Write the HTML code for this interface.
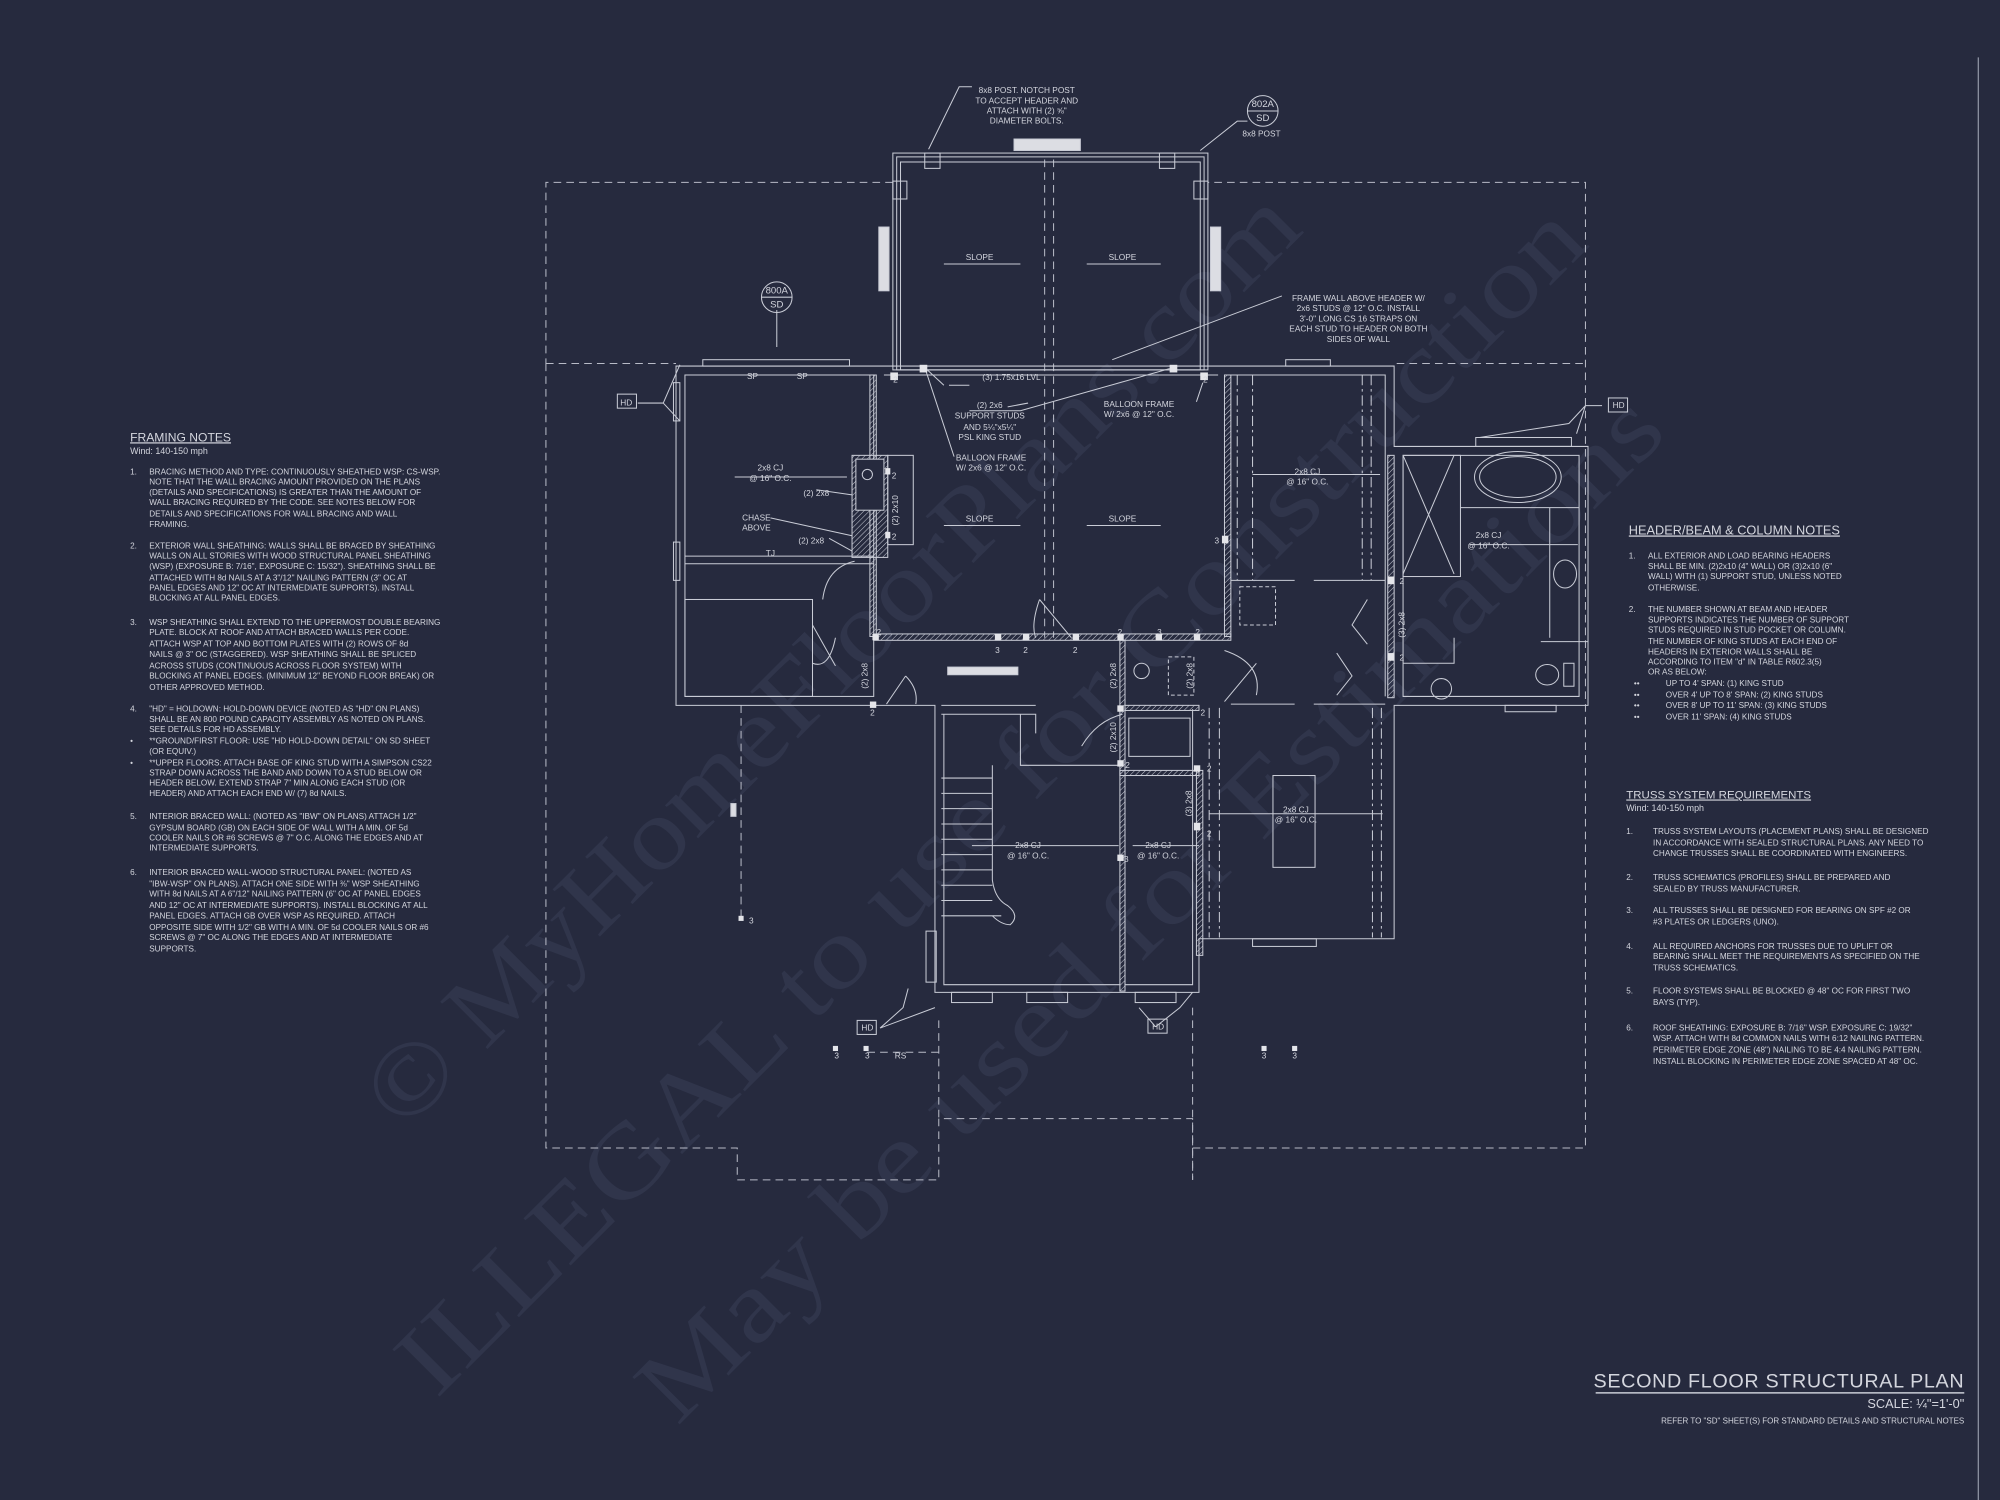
<!DOCTYPE html>
<html><head><meta charset="utf-8"><style>
html,body{margin:0;padding:0;background:#262a3e;}
svg{display:block}
text{font-family:"Liberation Sans",sans-serif;fill:#d4d6de;}
.wm{font-family:"Liberation Serif",serif;fill:#30354b;}
</style></head><body>
<svg width="2000" height="1500" viewBox="0 0 1568 1176" xmlns="http://www.w3.org/2000/svg">
<defs>
<pattern id="h" width="3" height="3" patternUnits="userSpaceOnUse" patternTransform="rotate(45)"><line x1="0" y1="0" x2="0" y2="3" stroke="#c9ccd6" stroke-width="0.8"/></pattern>
</defs>
<rect width="1568" height="1176" fill="#262a3e"/>
<!-- watermark -->
<g transform="translate(650 515) rotate(-45)"><text class="wm" x="0" y="28" font-size="80" text-anchor="middle" textLength="1000" lengthAdjust="spacingAndGlyphs">© MyHomeFloorPlans.com</text></g>
<g transform="translate(775 625) rotate(-45)"><text class="wm" x="0" y="28" font-size="80" text-anchor="middle" textLength="1280" lengthAdjust="spacingAndGlyphs">ILLEGAL to use for Construction</text></g>
<g transform="translate(900 710) rotate(-45)"><text class="wm" x="0" y="28" font-size="80" text-anchor="middle" textLength="1100" lengthAdjust="spacingAndGlyphs">May be used for Estimations</text></g>
<line x1="1551" y1="45" x2="1551" y2="1176" stroke="#8e92a2" stroke-width="1"/>

<g stroke="#c9ccd6" stroke-width="0.8" fill="none">
<!-- roof dashed outline -->
<g stroke-dasharray="6 4" stroke="#b8bbc7">
<path d="M428 285 V900 H578 V925 H736 V877 H935 V925 H935 M935 900 H1243 V143 H947 M700 143 H428 V285"/>
<path d="M935 900 V925"/>
<line x1="428" y1="285" x2="530" y2="285"/><line x1="1095" y1="285" x2="1243" y2="285"/>
<line x1="581" y1="553" x2="581" y2="720"/><line x1="736" y1="800" x2="736" y2="877"/><line x1="935" y1="790" x2="935" y2="900"/>
<line x1="680" y1="825" x2="736" y2="825"/>
<line x1="819" y1="125" x2="819" y2="500"/><line x1="826" y1="125" x2="826" y2="500"/>
</g>
<!-- porch -->
<rect x="700" y="120" width="247" height="170"/><rect x="703" y="123" width="241" height="167"/><rect x="706" y="127" width="235" height="163"/>
<rect x="725" y="120" width="12" height="12"/><rect x="909" y="120" width="12" height="12"/>
<rect x="700" y="142" width="11" height="14"/><rect x="936" y="142" width="11" height="14"/>
<rect x="689" y="178" width="8" height="50" fill="#dcdde3"/><rect x="949" y="178" width="8" height="50" fill="#dcdde3"/>
<rect x="795" y="109" width="52" height="9" fill="#dcdde3"/>
<!-- main outline -->
<path d="M530 287 H1093 V350 H1245 V553 H1093 V736 H940 V778 H733 V553 H685 V553 H530 Z"/>
<path d="M537 294 H685 M693 294 H955 M965 294 H1086 V546 M1100 357 H1238 V546 H1100 Z"/>
<rect x="537" y="294" width="148" height="252"/>
<rect x="537" y="470" width="100" height="76"/>
<path d="M537 436 H685 M537 442 H685"/>
<rect x="551" y="282" width="115" height="5"/><rect x="1008" y="282" width="35" height="5"/>
<rect x="528" y="300" width="5" height="30"/><rect x="528" y="425" width="5" height="30"/>
<!-- hatched walls -->
<rect x="682" y="294" width="5" height="205" fill="url(#h)"/>
<rect x="685" y="497" width="280" height="5" fill="url(#h)"/>
<rect x="960" y="294" width="5" height="205" fill="url(#h)"/>
<rect x="1088" y="357" width="5" height="190" fill="url(#h)"/>
<rect x="878" y="502" width="4" height="275" fill="url(#h)"/>
<rect x="878" y="604" width="62" height="4" fill="url(#h)"/>
<rect x="882" y="553" width="58" height="4" fill="url(#h)"/>
<rect x="938" y="604" width="5" height="145" fill="url(#h)"/>
<rect x="668" y="357" width="28" height="80" fill="url(#h)"/>
<rect x="671" y="360" width="22" height="40" fill="#262a3e"/>
<rect x="696" y="357" width="20" height="70"/>
<circle cx="680" cy="372" r="4"/>
<!-- right rooms -->
<g stroke-dasharray="8 3 2 3"><line x1="970" y1="294" x2="970" y2="455"/><line x1="982" y1="294" x2="982" y2="455"/><line x1="1068" y1="294" x2="1068" y2="455"/><line x1="1075" y1="294" x2="1075" y2="455"/>
<line x1="948" y1="555" x2="948" y2="735"/><line x1="956" y1="555" x2="956" y2="735"/><line x1="1076" y1="555" x2="1076" y2="735"/><line x1="1083" y1="555" x2="1083" y2="735"/></g>
<rect x="972" y="460" width="28" height="30" stroke-dasharray="3 2"/>
<path d="M965 455 H1015 M1030 455 H1086 M1030 552 H1086 M965 552 H1015"/>
<rect x="998" y="608" width="33" height="72"/>
<!-- bath -->
<path d="M1100 357 L1140 450 M1140 357 L1100 450"/>
<rect x="1100" y="357" width="45" height="95"/>
<ellipse cx="1190" cy="374" rx="34" ry="20"/><ellipse cx="1190" cy="374" rx="30" ry="16"/>
<path d="M1145 398 H1238 M1215 398 V500 M1208 503 H1245"/>
<ellipse cx="1227" cy="450" rx="9" ry="11"/><ellipse cx="1213" cy="529" rx="9" ry="8"/><rect x="1226" y="520" width="8" height="18"/>
<ellipse cx="1130" cy="540" rx="8" ry="8"/>
<path d="M1100 520 H1140 V500"/>
<rect x="1157" y="343" width="75" height="7"/><rect x="1180" y="553" width="40" height="5"/>
<!-- door arcs -->
<path d="M645 470 Q648 445 670 440 M637 490 L655 522 M637 520 Q650 525 655 500 M695 552 L710 530 M710 530 Q720 540 718 552"/>
<path d="M815 470 Q808 490 812 500 M815 470 L840 500"/>
<path d="M960 510 Q990 520 985 545 M985 520 L960 550"/>
<path d="M1048 512 L1060 530 L1048 545 M1072 470 L1060 490 L1072 505"/>
<!-- stair -->
<path d="M738 553 H812 M738 560 H812 V575 M800 560 V600 H878"/>
<g><line x1="738" y1="610" x2="778" y2="610"/><line x1="738" y1="622" x2="778" y2="622"/><line x1="738" y1="634" x2="778" y2="634"/><line x1="738" y1="646" x2="778" y2="646"/><line x1="738" y1="658" x2="778" y2="658"/><line x1="738" y1="670" x2="778" y2="670"/><line x1="738" y1="682" x2="778" y2="682"/><line x1="738" y1="694" x2="778" y2="694"/><line x1="738" y1="706" x2="778" y2="706"/><line x1="738" y1="718" x2="785" y2="718"/></g>
<path d="M778 600 V690 Q780 705 790 710 Q800 718 792 725 Q785 725 778 718"/>
<path d="M740 560 V772 H878 M882 772 H935 V556"/>
<rect x="746" y="778" width="32" height="8"/><rect x="805" y="778" width="32" height="8"/><rect x="890" y="778" width="32" height="8"/>
<rect x="982" y="736" width="50" height="6"/>
<rect x="726" y="730" width="8" height="40"/>
<path d="M848 585 Q860 565 880 560"/>
<rect x="885" y="563" width="48" height="30"/>
<circle cx="895" cy="526" r="6"/><rect x="916" y="515" width="20" height="30" stroke-dasharray="3 2"/>
<rect x="743" y="523" width="55" height="6" fill="#dcdde3"/>
<rect x="573" y="630" width="4" height="10" fill="#dcdde3"/>
<!-- leaders -->
<path d="M728 117 L752 68 H762 M941 118 L970 95 H978 M520 316 L533 286 M520 316 L533 330 M500 316 H520 M1243 318 L1256 318 M1243 318 L1236 340 M1243 318 L1230 332 L1160 343 M690 806 L708 790 L712 775 M690 806 L733 790 M906 805 L925 790 L935 778 M906 805 L893 790 M609 243 V272"/>
<path d="M1005 232 L872 282 M740 302 L727 290 M744 302 L760 302 M760 322 L800 322 L917 289 M748 358 L725 288 M790 319 L806 316 M938 315 L943 300 M640 384 L668 388 M604 406 L668 420 M650 422 L668 432"/>
<circle cx="609" cy="233" r="12"/><line x1="597" y1="233" x2="621" y2="233"/>
<circle cx="990" cy="87" r="12"/><line x1="978" y1="87" x2="1002" y2="87"/>
<rect x="484" y="309" width="15" height="11"/><rect x="1261" y="312" width="15" height="11"/>
<rect x="672" y="800" width="15" height="11"/><rect x="900" y="799" width="15" height="11"/>
<path d="M576 374 H664 M740 207 H800 M852 207 H910 M740 412 H800 M852 412 H910 M982 372 H1082 M1152 427 H1237 M762 663 H877 M888 663 H940 M948 638 H1084"/>
</g>
<g fill="#e4e5ea">
<rect x="698" y="292" width="6" height="6"/><rect x="721" y="286" width="6" height="6"/><rect x="917" y="286" width="6" height="6"/><rect x="941" y="292" width="6" height="6"/>
<rect x="684" y="497" width="5" height="5"/><rect x="780" y="497" width="5" height="5"/><rect x="802" y="497" width="5" height="5"/><rect x="841" y="497" width="5" height="5"/><rect x="876" y="497" width="5" height="5"/><rect x="906" y="497" width="5" height="5"/><rect x="936" y="497" width="5" height="5"/>
<rect x="958" y="420" width="5" height="6"/><rect x="1088" y="452" width="5" height="6"/><rect x="1088" y="512" width="5" height="6"/>
<rect x="876" y="553" width="5" height="5"/><rect x="876" y="596" width="5" height="5"/><rect x="936" y="600" width="5" height="5"/><rect x="936" y="645" width="5" height="6"/><rect x="876" y="670" width="5" height="5"/>
<rect x="694" y="367" width="4" height="5"/><rect x="694" y="417" width="4" height="5"/><rect x="682" y="550" width="5" height="5"/>
<rect x="579" y="718" width="4" height="4"/><rect x="653" y="820" width="4" height="4"/><rect x="677" y="820" width="4" height="4"/><rect x="989" y="820" width="4" height="4"/><rect x="1013" y="820" width="4" height="4"/>
</g>

<g font-size="6.5" text-anchor="middle">
<text x="805" y="73">8x8 POST. NOTCH POST</text><text x="805" y="81">TO ACCEPT HEADER AND</text><text x="805" y="89">ATTACH WITH (2) ⅝"</text><text x="805" y="97">DIAMETER BOLTS.</text>
<text x="990" y="84" font-size="7.5">802A</text><text x="990" y="95" font-size="7.5">SD</text><text x="989" y="107">8x8 POST</text>
<text x="609" y="230" font-size="7.5">800A</text><text x="609" y="241" font-size="7.5">SD</text>
<text x="768" y="204">SLOPE</text><text x="880" y="204">SLOPE</text><text x="768" y="409">SLOPE</text><text x="880" y="409">SLOPE</text>
<text x="1065" y="236">FRAME WALL ABOVE HEADER W/</text><text x="1065" y="244">2x6 STUDS @ 12" O.C. INSTALL</text><text x="1065" y="252">3'-0" LONG CS 16 STRAPS ON</text><text x="1065" y="260">EACH STUD TO HEADER ON BOTH</text><text x="1065" y="268">SIDES OF WALL</text>
<text x="793" y="298">(3) 1.75x16 LVL</text>
<text x="776" y="320">(2) 2x6</text><text x="776" y="328">SUPPORT STUDS</text><text x="776" y="337">AND 5¼"x5¼"</text><text x="776" y="345">PSL KING STUD</text>
<text x="777" y="361">BALLOON FRAME</text><text x="777" y="369">W/ 2x6 @ 12" O.C.</text>
<text x="893" y="319">BALLOON FRAME</text><text x="893" y="327">W/ 2x6 @ 12" O.C.</text>
<text x="604" y="369">2x8 CJ</text><text x="604" y="377">@ 16" O.C.</text>
<text x="1025" y="372">2x8 CJ</text><text x="1025" y="380">@ 16" O.C.</text>
<text x="1167" y="422">2x8 CJ</text><text x="1167" y="430">@ 16" O.C.</text>
<text x="806" y="665">2x8 CJ</text><text x="806" y="673">@ 16" O.C.</text>
<text x="908" y="665">2x8 CJ</text><text x="908" y="673">@ 16" O.C.</text>
<text x="1016" y="637">2x8 CJ</text><text x="1016" y="645">@ 16" O.C.</text>
<text x="593" y="408">CHASE</text><text x="593" y="416">ABOVE</text>
<text x="640" y="389">(2) 2x8</text><text x="636" y="426">(2) 2x8</text><text x="604" y="436">TJ</text>
<text x="590" y="297">SP</text><text x="629" y="297">SP</text>
<text x="491" y="318">HD</text><text x="1269" y="320">HD</text><text x="680" y="808">HD</text><text x="908" y="807">HD</text>
<text x="702" y="300">2</text><text x="945" y="300">2</text><text x="689" y="498">2</text><text x="782" y="512">3</text><text x="804" y="512">2</text><text x="843" y="512">2</text><text x="878" y="498">2</text><text x="909" y="498">3</text><text x="939" y="498">2</text><text x="954" y="426">3</text><text x="1099" y="458">2</text><text x="1099" y="518">2</text>
<text x="684" y="561">2</text><text x="884" y="602">2</text><text x="948" y="605">2</text><text x="948" y="656">2</text><text x="883" y="676">3</text><text x="701" y="375">2</text><text x="701" y="423">2</text><text x="943" y="561">2</text>
<text x="589" y="724">3</text><text x="656" y="830">3</text><text x="680" y="830">3</text><text x="706" y="830">RS</text><text x="991" y="830">3</text><text x="1015" y="830">3</text>
</g>
<g font-size="6.5">
<text transform="translate(680 540) rotate(-90)">(2) 2x8</text><text transform="translate(875 540) rotate(-90)">(2) 2x8</text><text transform="translate(935 540) rotate(-90)">(2) 2x8</text>
<text transform="translate(875 590) rotate(-90)">(2) 2x10</text><text transform="translate(704 412) rotate(-90)">(2) 2x10</text><text transform="translate(934 640) rotate(-90)">(3) 2x8</text><text transform="translate(1101 500) rotate(-90)">(3) 2x8</text>
</g>

<g font-size="6.4">
<text x="102" y="346" font-size="9.5" text-decoration="underline">FRAMING NOTES</text>
<text x="102" y="356" font-size="7">Wind: 140-150 mph</text>
<text x="102" y="372">1.</text>
<text x="117" y="372">BRACING METHOD AND TYPE: CONTINUOUSLY SHEATHED WSP: CS-WSP.</text>
<text x="117" y="380">NOTE THAT THE WALL BRACING AMOUNT PROVIDED ON THE PLANS</text>
<text x="117" y="388">(DETAILS AND SPECIFICATIONS) IS GREATER THAN THE AMOUNT OF</text>
<text x="117" y="396">WALL BRACING REQUIRED BY THE CODE. SEE NOTES BELOW FOR</text>
<text x="117" y="405">DETAILS AND SPECIFICATIONS FOR WALL BRACING AND WALL</text>
<text x="117" y="413">FRAMING.</text>
<text x="102" y="430">2.</text>
<text x="117" y="430">EXTERIOR WALL SHEATHING: WALLS SHALL BE BRACED BY SHEATHING</text>
<text x="117" y="438">WALLS ON ALL STORIES WITH WOOD STRUCTURAL PANEL SHEATHING</text>
<text x="117" y="446">(WSP) (EXPOSURE B: 7/16", EXPOSURE C: 15/32"). SHEATHING SHALL BE</text>
<text x="117" y="455">ATTACHED WITH 8d NAILS AT A 3"/12" NAILING PATTERN (3" OC AT</text>
<text x="117" y="463">PANEL EDGES AND 12" OC AT INTERMEDIATE SUPPORTS). INSTALL</text>
<text x="117" y="471">BLOCKING AT ALL PANEL EDGES.</text>
<text x="102" y="490">3.</text>
<text x="117" y="490">WSP SHEATHING SHALL EXTEND TO THE UPPERMOST DOUBLE BEARING</text>
<text x="117" y="498">PLATE. BLOCK AT ROOF AND ATTACH BRACED WALLS PER CODE.</text>
<text x="117" y="507">ATTACH WSP AT TOP AND BOTTOM PLATES WITH (2) ROWS OF 8d</text>
<text x="117" y="515">NAILS @ 3" OC (STAGGERED). WSP SHEATHING SHALL BE SPLICED</text>
<text x="117" y="524">ACROSS STUDS (CONTINUOUS ACROSS FLOOR SYSTEM) WITH</text>
<text x="117" y="532">BLOCKING AT PANEL EDGES. (MINIMUM 12" BEYOND FLOOR BREAK) OR</text>
<text x="117" y="541">OTHER APPROVED METHOD.</text>
<text x="102" y="558">4.</text>
<text x="117" y="558">"HD" = HOLDOWN: HOLD-DOWN DEVICE (NOTED AS "HD" ON PLANS)</text>
<text x="117" y="566">SHALL BE AN 800 POUND CAPACITY ASSEMBLY AS NOTED ON PLANS.</text>
<text x="117" y="574">SEE DETAILS FOR HD ASSEMBLY.</text>
<text x="102" y="583">•</text>
<text x="117" y="583">**GROUND/FIRST FLOOR: USE "HD HOLD-DOWN DETAIL" ON SD SHEET</text>
<text x="117" y="591">(OR EQUIV.)</text>
<text x="102" y="600">•</text>
<text x="117" y="600">**UPPER FLOORS: ATTACH BASE OF KING STUD WITH A SIMPSON CS22</text>
<text x="117" y="608">STRAP DOWN ACROSS THE BAND AND DOWN TO A STUD BELOW OR</text>
<text x="117" y="616">HEADER BELOW. EXTEND STRAP 7" MIN ALONG EACH STUD (OR</text>
<text x="117" y="624">HEADER) AND ATTACH EACH END W/ (7) 8d NAILS.</text>
<text x="102" y="642">5.</text>
<text x="117" y="642">INTERIOR BRACED WALL: (NOTED AS "IBW" ON PLANS) ATTACH 1/2"</text>
<text x="117" y="651">GYPSUM BOARD (GB) ON EACH SIDE OF WALL WITH A MIN. OF 5d</text>
<text x="117" y="659">COOLER NAILS OR #6 SCREWS @ 7" O.C. ALONG THE EDGES AND AT</text>
<text x="117" y="667">INTERMEDIATE SUPPORTS.</text>
<text x="102" y="686">6.</text>
<text x="117" y="686">INTERIOR BRACED WALL-WOOD STRUCTURAL PANEL: (NOTED AS</text>
<text x="117" y="695">"IBW-WSP" ON PLANS). ATTACH ONE SIDE WITH ⅜" WSP SHEATHING</text>
<text x="117" y="703">WITH 8d NAILS AT A 6"/12" NAILING PATTERN (6" OC AT PANEL EDGES</text>
<text x="117" y="712">AND 12" OC AT INTERMEDIATE SUPPORTS). INSTALL BLOCKING AT ALL</text>
<text x="117" y="720">PANEL EDGES. ATTACH GB OVER WSP AS REQUIRED. ATTACH</text>
<text x="117" y="729">OPPOSITE SIDE WITH 1/2" GB WITH A MIN. OF 5d COOLER NAILS OR #6</text>
<text x="117" y="737">SCREWS @ 7" OC ALONG THE EDGES AND AT INTERMEDIATE</text>
<text x="117" y="746">SUPPORTS.</text>
</g>

<g font-size="6.4">
<text x="1277" y="419" font-size="10" text-decoration="underline">HEADER/BEAM &amp; COLUMN NOTES</text>
<text x="1277" y="438">1.</text>
<text x="1292" y="438">ALL EXTERIOR AND LOAD BEARING HEADERS</text>
<text x="1292" y="446">SHALL BE MIN. (2)2x10 (4" WALL) OR (3)2x10 (6"</text>
<text x="1292" y="454">WALL) WITH (1) SUPPORT STUD, UNLESS NOTED</text>
<text x="1292" y="463">OTHERWISE.</text>
<text x="1277" y="480">2.</text>
<text x="1292" y="480">THE NUMBER SHOWN AT BEAM AND HEADER</text>
<text x="1292" y="488">SUPPORTS INDICATES THE NUMBER OF SUPPORT</text>
<text x="1292" y="496">STUDS REQUIRED IN STUD POCKET OR COLUMN.</text>
<text x="1292" y="505">THE NUMBER OF KING STUDS AT EACH END OF</text>
<text x="1292" y="513">HEADERS IN EXTERIOR WALLS SHALL BE</text>
<text x="1292" y="521">ACCORDING TO ITEM "d" IN TABLE R602.3(5)</text>
<text x="1292" y="529">OR AS BELOW:</text>
<text x="1281" y="538">••</text><text x="1306" y="538">UP TO 4' SPAN: (1) KING STUD</text>
<text x="1281" y="547">••</text><text x="1306" y="547">OVER 4' UP TO 8' SPAN: (2) KING STUDS</text>
<text x="1281" y="555">••</text><text x="1306" y="555">OVER 8' UP TO 11' SPAN: (3) KING STUDS</text>
<text x="1281" y="564">••</text><text x="1306" y="564">OVER 11' SPAN: (4) KING STUDS</text>
<text x="1275" y="626" font-size="9" text-decoration="underline">TRUSS SYSTEM REQUIREMENTS</text>
<text x="1275" y="636" font-size="7">Wind: 140-150 mph</text>
<text x="1275" y="654">1.</text>
<text x="1296" y="654">TRUSS SYSTEM LAYOUTS (PLACEMENT PLANS) SHALL BE DESIGNED</text>
<text x="1296" y="663">IN ACCORDANCE WITH SEALED STRUCTURAL PLANS. ANY NEED TO</text>
<text x="1296" y="671">CHANGE TRUSSES SHALL BE COORDINATED WITH ENGINEERS.</text>
<text x="1275" y="690">2.</text>
<text x="1296" y="690">TRUSS SCHEMATICS (PROFILES) SHALL BE PREPARED AND</text>
<text x="1296" y="699">SEALED BY TRUSS MANUFACTURER.</text>
<text x="1275" y="716">3.</text>
<text x="1296" y="716">ALL TRUSSES SHALL BE DESIGNED FOR BEARING ON SPF #2 OR</text>
<text x="1296" y="725">#3 PLATES OR LEDGERS (UNO).</text>
<text x="1275" y="744">4.</text>
<text x="1296" y="744">ALL REQUIRED ANCHORS FOR TRUSSES DUE TO UPLIFT OR</text>
<text x="1296" y="752">BEARING SHALL MEET THE REQUIREMENTS AS SPECIFIED ON THE</text>
<text x="1296" y="761">TRUSS SCHEMATICS.</text>
<text x="1275" y="779">5.</text>
<text x="1296" y="779">FLOOR SYSTEMS SHALL BE BLOCKED @ 48" OC FOR FIRST TWO</text>
<text x="1296" y="788">BAYS (TYP).</text>
<text x="1275" y="808">6.</text>
<text x="1296" y="808">ROOF SHEATHING: EXPOSURE B: 7/16" WSP. EXPOSURE C: 19/32"</text>
<text x="1296" y="816">WSP. ATTACH WITH 8d COMMON NAILS WITH 6:12 NAILING PATTERN.</text>
<text x="1296" y="825">PERIMETER EDGE ZONE (48") NAILING TO BE 4:4 NAILING PATTERN.</text>
<text x="1296" y="834">INSTALL BLOCKING IN PERIMETER EDGE ZONE SPACED AT 48" OC.</text>
</g>

<text x="1540" y="1088" font-size="15.5" text-anchor="end" letter-spacing="0.5">SECOND FLOOR STRUCTURAL PLAN</text>
<line x1="1251" y1="1092" x2="1540" y2="1092" stroke="#c9ccd6" stroke-width="1.2"/>
<text x="1540" y="1104" font-size="10" text-anchor="end">SCALE: ¼"=1'-0"</text>
<text x="1540" y="1116" font-size="6.3" text-anchor="end">REFER TO "SD" SHEET(S) FOR STANDARD DETAILS AND STRUCTURAL NOTES</text>
</svg>
</body></html>
